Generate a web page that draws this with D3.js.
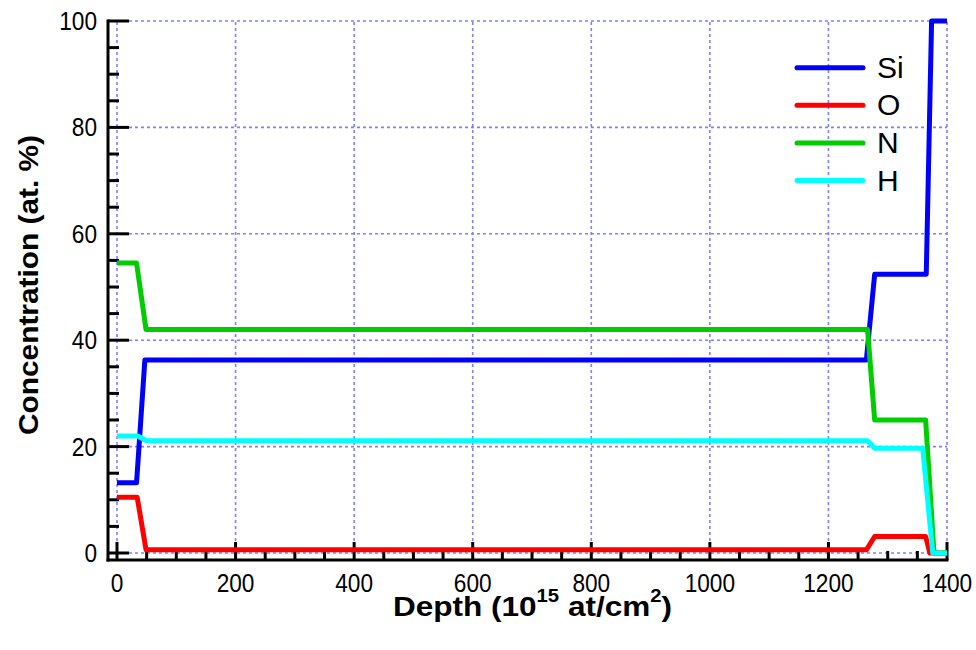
<!DOCTYPE html>
<html><head><meta charset="utf-8">
<script src="https://cdn.jsdelivr.net/npm/d3@7"></script>
<style>html,body{margin:0;padding:0;background:#fff;}svg{display:block;font-family:"Liberation Sans",Arial,sans-serif;}</style>
</head><body>
<svg id="c" width="976" height="650"></svg>
<script>
const seriesNames = ["Si","O","N","H"];
const seriesColors = ["#0000ff","#ff0000","#00cc00","#00ffff"];
const depthSi = [0,33,47,1264,1278,1365,1374,1400];
const valSi   = [13.2,13.2,36.3,36.3,52.4,52.4,100,100];
const depthO  = [0,34,49,1264,1278,1364,1371,1400];
const valO    = [10.5,10.5,0.6,0.6,3.1,3.1,0,0];
const depthN  = [0,33,49,1266,1278,1364,1378,1400];
const valN    = [54.5,54.5,42,42,25,25,0,0];
const depthH  = [0,35,50,1266,1278,1359,1376,1400];
const valH    = [22,22,21.1,21.1,19.7,19.7,0,0];
const xTicks = [0,200,400,600,800,1000,1200,1400];
const yTicks = [0,20,40,60,80,100];
const xMinor = d3.range(0,1401,50);
const yMinor = d3.range(0,101,5);

const series = [
  {name:"Si", d:depthSi, v:valSi},
  {name:"O", d:depthO, v:valO},
  {name:"N", d:depthN, v:valN},
  {name:"H", d:depthH, v:valH}
];

const svg = d3.select("#c");
const x = d3.scaleLinear().domain([0,1400]).range([117,947]);
const y = d3.scaleLinear().domain([0,100]).range([553,21]);
const axX = 108, axY = 560;

// grid
const grid = svg.append("g").attr("stroke","#7f7fff").attr("stroke-width",1.6).attr("stroke-dasharray","3,3");
xTicks.forEach(t=>grid.append("line").attr("x1",x(t)).attr("x2",x(t)).attr("y1",y(0)).attr("y2",y(100)));
yTicks.forEach(t=>grid.append("line").attr("x1",x(0)).attr("x2",x(1400)).attr("y1",y(t)).attr("y2",y(t)));

// axes lines
const ax = svg.append("g").attr("stroke","#000").attr("stroke-width",3).attr("stroke-linecap","butt");
ax.append("line").attr("x1",axX).attr("x2",axX).attr("y1",y(100)-1.5).attr("y2",axY+1.5);
ax.append("line").attr("x1",axX-1.5).attr("x2",x(1400)+1.5).attr("y1",axY).attr("y2",axY);
yMinor.forEach(t=>{
  const major = t%20===0;
  ax.append("line").attr("x1",axX).attr("x2",axX+(major?21:11)).attr("y1",y(t)).attr("y2",y(t));
});
xMinor.forEach(t=>{
  const major = t%200===0;
  ax.append("line").attr("x1",x(t)).attr("x2",x(t)).attr("y1",axY).attr("y2",axY-(major?18:9));
});

// tick labels
yTicks.forEach(t=>{
  const s = String(t);
  svg.append("text").attr("x",97).attr("y",y(t)+9).attr("text-anchor","end")
    .attr("font-size",25).attr("textLength",s.length*12.6).attr("lengthAdjust","spacingAndGlyphs").text(s);
});
xTicks.forEach(t=>{
  const s = String(t);
  svg.append("text").attr("x",x(t)).attr("y",592).attr("text-anchor","middle")
    .attr("font-size",25).attr("textLength",s.length*12.6).attr("lengthAdjust","spacingAndGlyphs").text(s);
});

// axis titles
svg.append("text").attr("transform","translate(38,285) rotate(-90)").attr("text-anchor","middle")
  .attr("font-size",28).attr("font-weight","bold").attr("textLength",300).attr("lengthAdjust","spacingAndGlyphs")
  .text("Concentration (at. %)");
const xt = svg.append("text").attr("x",393).attr("y",616).attr("font-size",28).attr("font-weight","bold")
  .attr("textLength",279).attr("lengthAdjust","spacingAndGlyphs");
xt.append("tspan").text("Depth (10");
xt.append("tspan").attr("font-size",18).attr("dy",-14).text("15");
xt.append("tspan").attr("dy",14).text(" at/cm");
xt.append("tspan").attr("font-size",18).attr("dy",-14).text("2");
xt.append("tspan").attr("dy",14).text(")");

// lines
const line = d3.line().x(p=>x(p[0])).y(p=>y(p[1]));
series.forEach((s,i)=>{
  svg.append("path").datum(s.d.map((d,j)=>[d,s.v[j]])).attr("d",line)
    .attr("fill","none").attr("stroke",seriesColors[i]).attr("stroke-width",5).attr("stroke-linejoin","round");
});

// legend
seriesNames.forEach((n,i)=>{
  const ly = 67.7 + i*37.6;
  svg.append("line").attr("x1",797).attr("x2",863).attr("y1",ly).attr("y2",ly)
    .attr("stroke",seriesColors[i]).attr("stroke-width",5).attr("stroke-linecap","round");
  svg.append("text").attr("x",877).attr("y",ly+10).attr("font-size",30).text(n);
});
</script>
</body></html>
